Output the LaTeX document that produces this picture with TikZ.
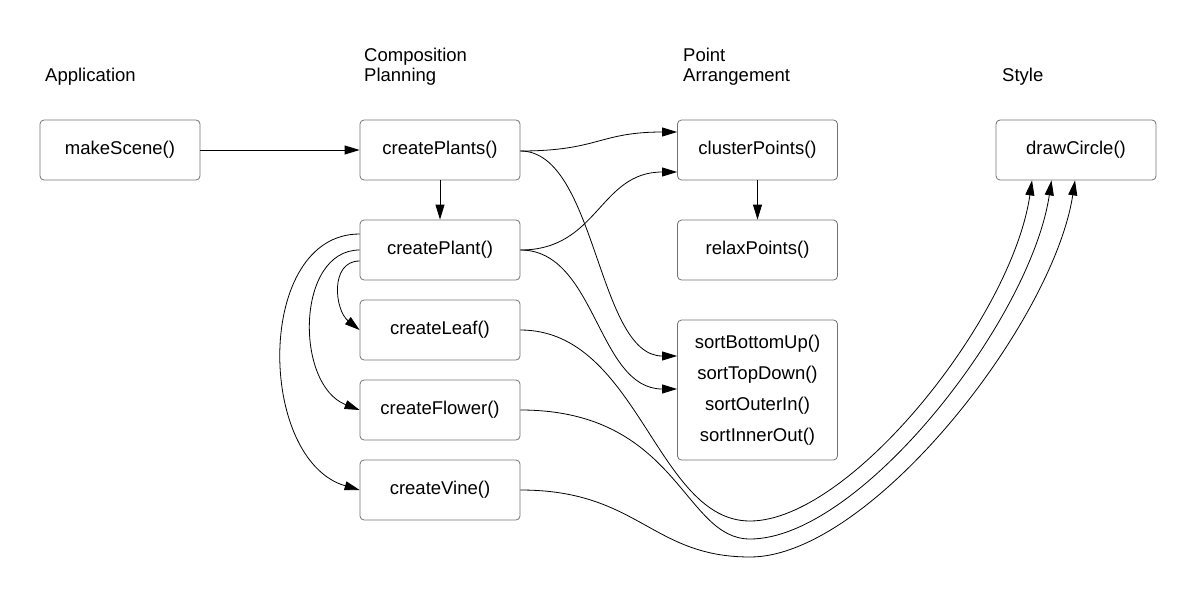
\documentclass[tikz,border=0pt]{standalone}
\usepackage{fontspec}
\setmainfont{Liberation Sans}
\usetikzlibrary{arrows.meta}
\begin{document}
\begin{tikzpicture}[x=1pt,y=-1pt,
  box/.style={draw=black!55, line width=0.8pt, rounded corners=4pt,
    minimum width=160pt, minimum height=60pt, inner sep=0pt,
    font=\fontsize{18.5}{20}\selectfont},
  lab/.style={anchor=south west, inner sep=0pt, align=left,
    font=\fontsize{18.5}{20}\selectfont},
  conn/.style={line width=0.8pt, -{Triangle[length=15pt,width=9pt]}}]
\useasboundingbox (0,0) rectangle (1196,597);

% column labels
\node[lab] (labA) at (45,86) {Application};
\node[lab] (labB) at (364,86) {Composition\\Planning};
\node[lab] (labC) at (683,86) {Point\\Arrangement};
\node[lab] (labD) at (1002,86) {Style};

% boxes
\node[box] (scene)   at (120,150)   {makeScene()};
\node[box] (plants)  at (440,150)   {createPlants()};
\node[box] (cluster) at (757.5,150) {clusterPoints()};
\node[box] (circle)  at (1076,150)  {drawCircle()};
\node[box] (plant)   at (440,250)   {createPlant()};
\node[box] (relax)   at (757.5,250) {relaxPoints()};
\node[box] (leaf)    at (440,330)   {createLeaf()};
\node[box] (flower)  at (440,410)   {createFlower()};
\node[box] (vine)    at (440,490)   {createVine()};
\node[box, minimum height=140pt, align=center,
  font=\fontsize{18.5}{31}\selectfont] (sort) at (757.5,390)
  {sortBottomUp()\\sortTopDown()\\sortOuterIn()\\sortInnerOut()};

% waypoints
\coordinate (lowA) at (750,521);
\coordinate (lowB) at (750,539);
\coordinate (lowC) at (750,557);

% straight connectors
\draw[conn] (scene) -- (plants);
\draw[conn] (plants) -- (plant);
\draw[conn] (cluster) -- (relax);

% right-going curves
\draw[conn] ([yshift=-1pt]plants.east) .. controls +(78,0) and +(-78,0) .. ([yshift=18pt]cluster.west);
\draw[conn] ([yshift=-1pt]plants.east) .. controls +(76,0) and +(-80,0) .. ([yshift=34pt]sort.west);
\draw[conn] (plant.east) .. controls +(78,0) and +(-78,0) .. ([yshift=-22pt]cluster.west);
\draw[conn] (plant.east) .. controls +(76,0) and +(-80,0) .. ([yshift=1pt]sort.west);

% left loops
\draw[conn] ([yshift=-11pt]plant.west) .. controls +(-30,0) and +(-25,-20) .. (leaf.west);
\draw[conn] (plant.west) .. controls +(-64,0) and +(-65,-25) .. (flower.west);
\draw[conn] ([yshift=16pt]plant.west) .. controls +(-105,0) and +(-103,-30) .. (vine.west);

% long curves to drawCircle
\draw[conn] (leaf.east) .. controls +(118,0) and +(-94,0) .. (lowA)
  .. controls +(100,0) and +(-20,138) .. ([xshift=-44pt]circle.south);
\draw[conn] (flower.east) .. controls +(158,0) and +(-67,0) .. (lowB)
  .. controls +(110,0) and +(-21,140) .. ([xshift=-24.5pt]circle.south);
\draw[conn] (vine.east) .. controls +(118,0) and +(-99,0) .. (lowC)
  .. controls +(120,0) and +(-22,143) .. ([xshift=-1pt]circle.south);
\end{tikzpicture}
\end{document}
